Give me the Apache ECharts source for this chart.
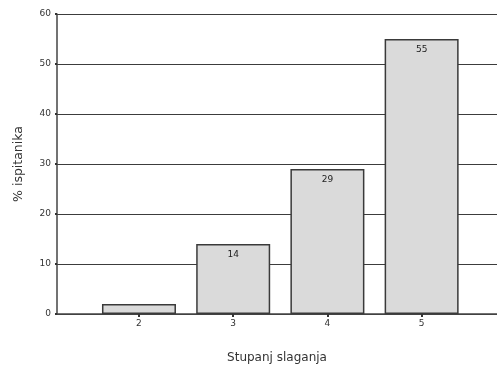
<!DOCTYPE html>
<html>
<head>
<meta charset="utf-8">
<script src="https://cdn.jsdelivr.net/npm/echarts@6/dist/echarts.min.js"></script>
<style>
  html, body { margin: 0; padding: 0; background: #fff; }
  #chart { width: 497px; height: 369px; }
</style>
</head>
<body>
<div id="chart"></div>
<script>
// data
var categories = [2, 3, 4, 5];
var percents = [2, 14, 29, 55];
var barLabels = ['', '14', '29', '55'];

var chart = echarts.init(document.getElementById('chart'));

var font = 'DejaVu Sans';

var option = {
  backgroundColor: '#fff',
  animation: false,
  grid: { left: 57, right: 0, top: 14, bottom: 55, outerBoundsMode: 'none', containLabel: false },
  xAxis: {
    type: 'value',
    min: 1.13,
    max: 5.8,
    name: 'Stupanj slaganja',
    nameLocation: 'middle',
    nameGap: 38,
    nameTextStyle: { fontFamily: font, fontSize: 12, color: '#333' },
    axisLine: { lineStyle: { color: '#444', width: 1.5 } },
    axisTick: { show: true, customValues: categories, length: 3, lineStyle: { color: '#333', width: 2 } },
    axisLabel: { customValues: categories, fontFamily: font, fontSize: 9, color: '#333', margin: 5 },
    splitLine: { show: false }
  },
  yAxis: {
    type: 'value',
    min: 0,
    max: 60,
    interval: 10,
    name: '% ispitanika',
    nameLocation: 'middle',
    nameGap: 32,
    nameTextStyle: { fontFamily: font, fontSize: 12.5, color: '#333' },
    axisLine: { show: true, lineStyle: { color: '#444', width: 1.5 } },
    axisTick: { show: true, length: 2, lineStyle: { color: '#333', width: 2 } },
    axisLabel: { fontFamily: font, fontSize: 9, color: '#333', margin: 6 },
    splitLine: { show: true, lineStyle: { color: '#3c3c3c', width: 1.2 } }
  },
  series: [{
    type: 'bar',
    barWidth: 74,
    data: categories.map(function (c, i) { return [c, percents[i]]; }),
    itemStyle: { color: '#dadada', borderColor: '#3a3a3a', borderWidth: 1.5 },
    label: {
      show: true,
      position: 'insideTop',
      distance: 6,
      fontFamily: font,
      fontSize: 9,
      color: '#222',
      formatter: function (p) { return barLabels[p.dataIndex]; }
    }
  }]
};

chart.setOption(option);
</script>
</body>
</html>
